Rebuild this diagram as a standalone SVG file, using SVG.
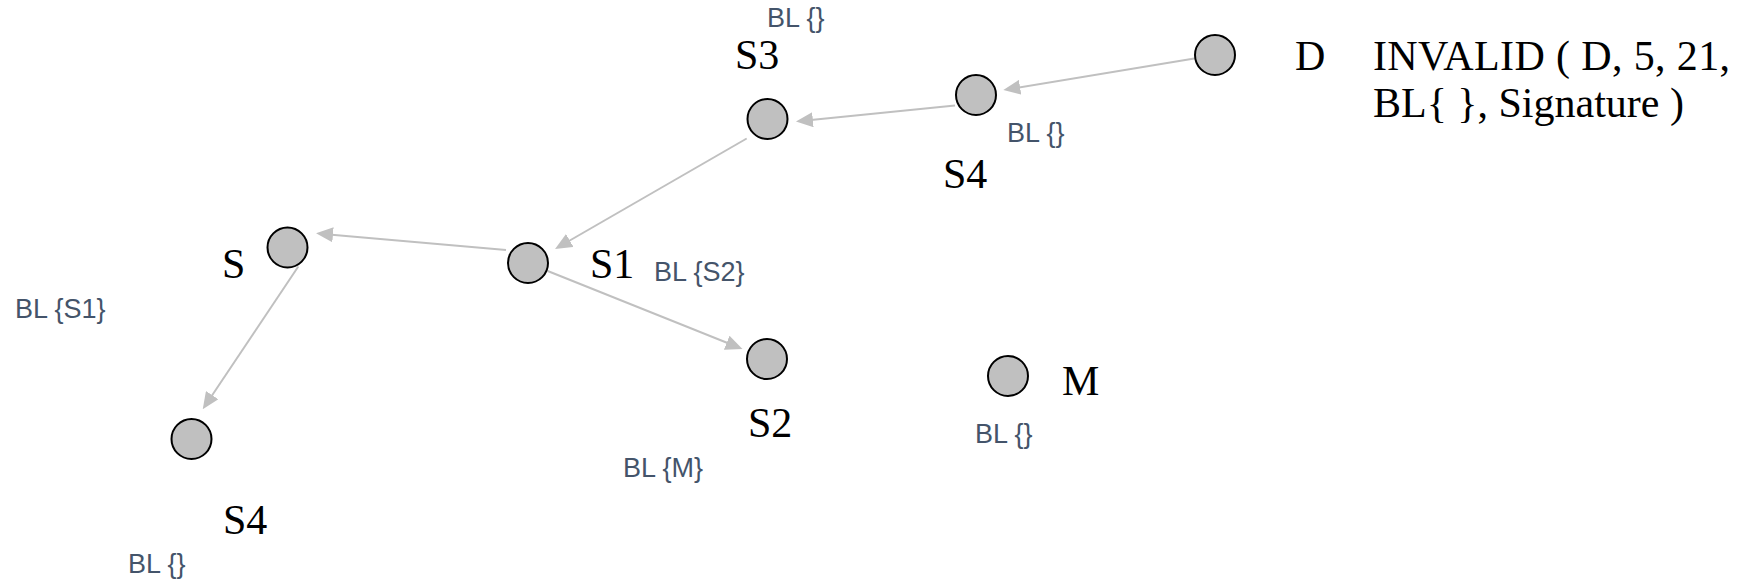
<svg xmlns="http://www.w3.org/2000/svg" width="1742" height="581" viewBox="0 0 1742 581">
<style>
.node{fill:#c0c0c0;stroke:#000;stroke-width:2}
.lbl{font-family:"Liberation Serif","Times New Roman",serif;font-size:42px;fill:#000}
.bl{font-family:"Liberation Sans",Arial,sans-serif;font-size:27px;fill:#44546a}
.edge{stroke:#c0c0c0;stroke-width:2;fill:none}
</style>
<defs>
<marker id="arr" markerUnits="userSpaceOnUse" markerWidth="17" markerHeight="15" refX="7" refY="7.5" orient="auto">
<path d="M0,0 L17,7.5 L0,15 z" fill="#c0c0c0"/>
</marker>
</defs>
<rect width="1742" height="581" fill="#fff"/>
<g id="connectors">
<line class="edge" x1="1194.3" y1="58.5" x2="1013.2" y2="88.4" marker-end="url(#arr)"/>
<line class="edge" x1="955" y1="105.5" x2="805.9" y2="120.5" marker-end="url(#arr)"/>
<line class="edge" x1="746.7" y1="138.5" x2="563.7" y2="244.0" marker-end="url(#arr)"/>
<line class="edge" x1="506" y1="250" x2="326.0" y2="234.2" marker-end="url(#arr)"/>
<line class="edge" x1="547.7" y1="271" x2="733.2" y2="345.3" marker-end="url(#arr)"/>
<line class="edge" x1="298.3" y1="266.5" x2="208.3" y2="401.0" marker-end="url(#arr)"/>
</g>
<g id="node-D">
<circle class="node" cx="1215" cy="55" r="20"/>
<text class="lbl" x="1295" y="70">D</text>
<text class="lbl" x="1373" y="70" textLength="357">INVALID ( D, 5, 21,</text>
<text class="lbl" x="1373" y="117">BL{ }, Signature )</text>
</g>
<g id="node-S4a">
<circle class="node" cx="976" cy="95" r="20"/>
<text class="lbl" x="943" y="188">S4</text>
<text class="bl" x="1007" y="142">BL {}</text>
</g>
<g id="node-S3">
<circle class="node" cx="767.5" cy="119" r="20"/>
<text class="lbl" x="735" y="69">S3</text>
<text class="bl" x="767" y="27">BL {}</text>
</g>
<g id="node-S1">
<circle class="node" cx="528" cy="263" r="20"/>
<text class="lbl" x="590" y="278">S1</text>
<text class="bl" x="654" y="281">BL {S2}</text>
</g>
<g id="node-S">
<circle class="node" cx="287.5" cy="247.5" r="20"/>
<text class="lbl" x="222" y="278">S</text>
<text class="bl" x="15" y="318">BL {S1}</text>
</g>
<g id="node-S2">
<circle class="node" cx="767" cy="359" r="20"/>
<text class="lbl" x="748" y="437">S2</text>
<text class="bl" x="623" y="477">BL {M}</text>
</g>
<g id="node-S4b">
<circle class="node" cx="191.5" cy="439" r="20"/>
<text class="lbl" x="223" y="534">S4</text>
<text class="bl" x="128" y="573">BL {}</text>
</g>
<g id="node-M">
<circle class="node" cx="1008" cy="376" r="20"/>
<text class="lbl" x="1062" y="395">M</text>
<text class="bl" x="975" y="443">BL {}</text>
</g>
</svg>
